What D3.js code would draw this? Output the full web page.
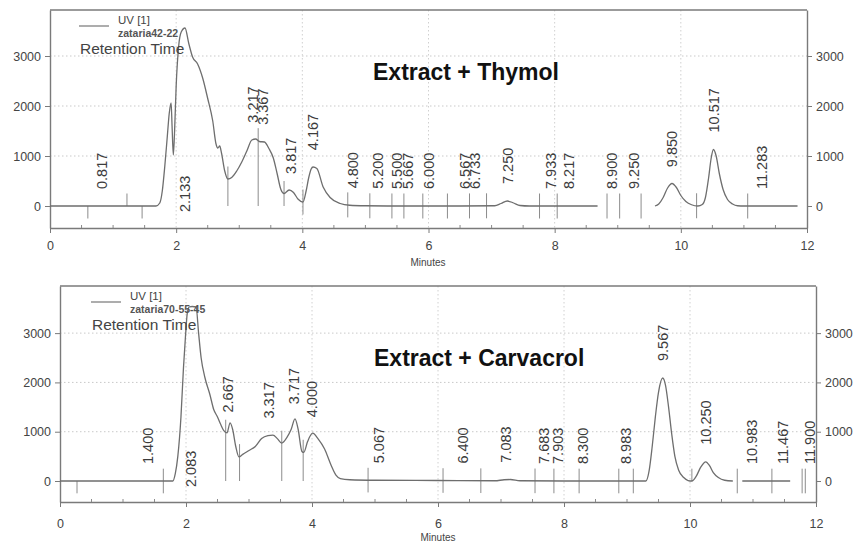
<!DOCTYPE html>
<html>
<head>
<meta charset="utf-8">
<script src="https://cdn.jsdelivr.net/npm/d3@7"></script>
<style>
  body { margin: 0; background: #fff; }
  svg { display: block; font-family: "Liberation Sans", Arial, sans-serif; }
</style>
</head>
<body>
<svg id="chart" width="859" height="549"></svg>
<script>
// ---- shared axis values ----
const timeTicks = [0, 2, 4, 6, 8, 10, 12];
const signalTicks = [0, 1000, 2000, 3000];

// ---- Extract + Thymol (zataria42-22) ----
// detector trace: [minutes, signal]; a null signal breaks the line
const thymolTrace = [
  [0, 0], [0.6, 0], [1.2, 0], [1.68, 0], [1.74, 60], [1.78, 300], [1.82, 800], [1.86, 1400],
  [1.89, 1850], [1.92, 2060], [1.935, 1600], [1.955, 1020], [1.975, 1500], [2.0, 2400],
  [2.04, 3200], [2.08, 3480], [2.14, 3560], [2.2, 3250], [2.26, 2980], [2.34, 2840],
  [2.42, 2560], [2.5, 2150], [2.58, 1700], [2.63, 1250], [2.66, 1160], [2.69, 1200],
  [2.72, 1050], [2.77, 700], [2.82, 540], [2.88, 570], [2.96, 700], [3.04, 880], [3.12, 1100],
  [3.2, 1320], [3.26, 1340], [3.32, 1290], [3.4, 1280], [3.47, 1150], [3.54, 960], [3.6, 650],
  [3.66, 330], [3.71, 250], [3.79, 320], [3.86, 270], [3.93, 140], [4.01, 80], [4.06, 300],
  [4.1, 560], [4.14, 740], [4.17, 780], [4.23, 750], [4.33, 380], [4.44, 170], [4.6, 50],
  [4.75, 15], [5.0, 5], [5.5, 0], [6.5, 0], [7.05, 5], [7.15, 50], [7.25, 100], [7.35, 60],
  [7.45, 10], [7.6, 0], [8.68, 0], [9.1, null], [9.59, 0], [9.65, 40], [9.72, 170], [9.79, 360],
  [9.86, 450], [9.93, 370], [10.0, 210], [10.08, 90], [10.17, 25], [10.27, 0], [10.34, 30],
  [10.39, 170], [10.44, 560], [10.48, 950], [10.517, 1130], [10.56, 1000], [10.61, 650],
  [10.67, 330], [10.74, 130], [10.82, 40], [10.9, 5], [11.0, 0], [11.85, 0]
];
const thymolPeaks = [0.817, 2.133, 3.217, 3.367, 3.817, 4.167, 4.800, 5.200, 5.500, 5.667,
  6.000, 6.567, 6.733, 7.250, 7.933, 8.217, 8.900, 9.250, 9.850, 10.517, 11.283];
const thymolDropLines = [2.82, 3.30, 3.71];
const thymolEventTicks = [4.01, 4.72, 5.07, 5.42, 5.61, 5.91, 6.30, 6.65, 6.92, 7.76, 8.04,
  8.83, 9.03, 9.37, 10.25, 11.06];
const thymolStartTicks = [1.22];
const thymolEndTicks = [0.60, 1.46];

// ---- Extract + Carvacrol (zataria70-55-45) ----
const carvacrolTrace = [
  [0, 0], [0.8, 0], [1.5, 0], [1.79, 0], [1.83, 150], [1.87, 500], [1.92, 1300], [1.96, 2300],
  [1.99, 2900], [2.02, 3400], [2.05, 3530], [2.1, 3540], [2.16, 3530], [2.2, 3000], [2.24, 2500],
  [2.3, 2100], [2.38, 1750], [2.44, 1450], [2.5, 1300], [2.55, 1150], [2.6, 1020], [2.65, 975],
  [2.7, 1180], [2.74, 1050], [2.79, 700], [2.84, 490], [2.9, 540], [3.0, 620], [3.1, 700],
  [3.2, 860], [3.3, 920], [3.38, 930], [3.45, 860], [3.52, 770], [3.6, 880], [3.67, 1050],
  [3.73, 1260], [3.78, 1050], [3.84, 600], [3.87, 580], [3.93, 800], [4.01, 970], [4.1, 850],
  [4.2, 650], [4.3, 330], [4.38, 120], [4.45, 50], [4.6, 25], [5.0, 15], [6.0, 10], [6.9, 5],
  [7.05, 25], [7.15, 30], [7.3, 5], [8.0, 0], [9.3, 0], [9.35, 200], [9.4, 700], [9.45, 1300],
  [9.5, 1800], [9.567, 2090], [9.61, 1950], [9.66, 1500], [9.71, 950], [9.76, 500], [9.82, 220],
  [9.9, 70], [9.97, 10], [10.03, 0], [10.1, 100], [10.17, 280], [10.25, 390], [10.31, 310],
  [10.37, 170], [10.45, 70], [10.55, 15], [10.68, 0], [10.75, null], [10.83, 0], [11.59, 0]
];
const carvacrolPeaks = [1.400, 2.083, 2.667, 3.317, 3.717, 4.000, 5.067, 6.400, 7.083, 7.683,
  7.903, 8.300, 8.983, 9.567, 10.250, 10.983, 11.467, 11.900];
const carvacrolDropLines = [2.63, 2.85, 3.52, 3.86];
const carvacrolEventTicks = [1.64, 4.89, 6.08, 6.68, 7.54, 7.84, 8.24, 8.87, 9.10, 10.75,
  11.30, 11.78, 11.83];
const carvacrolStartTicks = [10.03];
const carvacrolEndTicks = [0.27];

const svg = d3.select("#chart");
const fmtRT = d3.format(".3f");

// linear read-out of a trace at time t (used to seat the peak labels)
function valueAt(trace, t) {
  const pts = trace.filter(d => d[1] !== null);
  for (let i = 1; i < pts.length; i++) {
    if (pts[i][0] >= t) {
      const a = pts[i - 1], b = pts[i];
      const f = (t - a[0]) / (b[0] - a[0]);
      return a[1] + f * (b[1] - a[1]);
    }
  }
  return 0;
}

function drawPanel(cfg) {
  const x = d3.scaleLinear().domain([0, 12]).range([cfg.left, cfg.right]);
  const y = d3.scaleLinear().domain(cfg.yDomain).range([cfg.bottom, cfg.top]);
  const g = svg.append("g");

  // dotted grid
  g.append("g").selectAll("line").data(signalTicks.filter(v => v > 0)).join("line")
    .attr("x1", cfg.left).attr("x2", cfg.right)
    .attr("y1", d => y(d)).attr("y2", d => y(d))
    .attr("stroke", "#c9c9c9").attr("stroke-width", 1).attr("stroke-dasharray", "1.5,2.5");
  g.append("g").selectAll("line").data(timeTicks.filter(t => t > 0 && t < 12)).join("line")
    .attr("x1", d => x(d)).attr("x2", d => x(d))
    .attr("y1", cfg.top).attr("y2", cfg.bottom)
    .attr("stroke", "#d0d0d0").attr("stroke-width", 1).attr("stroke-dasharray", "1.5,2.5");

  // top edge of frame
  g.append("line")
    .attr("x1", cfg.left).attr("x2", cfg.right).attr("y1", cfg.top).attr("y2", cfg.top)
    .attr("stroke", "#7a7a7a").attr("stroke-width", 1.4);

  // axes
  const xAxis = g.append("g").attr("transform", `translate(0,${cfg.bottom})`)
    .call(d3.axisBottom(x).tickValues(timeTicks).tickSize(5).tickSizeOuter(0)
      .tickPadding(cfg.xPad).tickFormat(d3.format("d")));
  const yLeft = g.append("g").attr("transform", `translate(${cfg.left},0)`)
    .call(d3.axisLeft(y).tickValues(signalTicks).tickSize(5).tickSizeOuter(0)
      .tickPadding(4).tickFormat(d3.format("d")));
  const yRight = g.append("g").attr("transform", `translate(${cfg.right},0)`)
    .call(d3.axisRight(y).tickValues(signalTicks).tickSize(5).tickSizeOuter(0)
      .tickPadding(4).tickFormat(d3.format("d")));
  [xAxis, yLeft, yRight].forEach(a => {
    a.select(".domain").attr("stroke", "#7a7a7a").attr("stroke-width", 1.4);
    a.selectAll(".tick line").attr("stroke", "#7a7a7a");
    a.selectAll("text").attr("fill", "#444").attr("font-size", 12.5)
      .attr("font-family", "Liberation Sans, Arial, sans-serif");
  });

  // minor time ticks every half minute
  g.append("g").selectAll("line")
    .data(d3.range(0.5, 12, 0.5).filter(t => t % 2 !== 0)).join("line")
    .attr("x1", d => x(d)).attr("x2", d => x(d))
    .attr("y1", cfg.bottom).attr("y2", cfg.bottom - 3)
    .attr("stroke", "#8a8a8a");

  // "Minutes" caption
  g.append("text").attr("x", cfg.minutesX).attr("y", cfg.minutesY)
    .attr("text-anchor", "middle").attr("font-size", 10).attr("fill", "#444")
    .text("Minutes");

  // integration event marks
  const marks = g.append("g").attr("stroke", "#8c8c8c").attr("stroke-width", 1);
  marks.selectAll(".drop").data(cfg.dropLines).join("line")
    .attr("x1", d => x(d)).attr("x2", d => x(d))
    .attr("y1", y(0)).attr("y2", d => y(valueAt(cfg.trace, d) + 250));
  marks.selectAll(".both").data(cfg.eventTicks).join("line")
    .attr("x1", d => x(d)).attr("x2", d => x(d))
    .attr("y1", d => y(valueAt(cfg.trace, d) - 250)).attr("y2", d => y(valueAt(cfg.trace, d) + 250));
  marks.selectAll(".start").data(cfg.startTicks).join("line")
    .attr("x1", d => x(d)).attr("x2", d => x(d))
    .attr("y1", y(0)).attr("y2", y(250));
  marks.selectAll(".end").data(cfg.endTicks).join("line")
    .attr("x1", d => x(d)).attr("x2", d => x(d))
    .attr("y1", y(0)).attr("y2", y(-250));

  // detector trace
  const line = d3.line()
    .defined(d => d[1] !== null)
    .x(d => x(d[0])).y(d => y(d[1]))
    .curve(d3.curveMonotoneX);
  g.append("path").datum(cfg.trace)
    .attr("d", line).attr("fill", "none")
    .attr("stroke", "#6e6e6e").attr("stroke-width", 1.3).attr("stroke-linejoin", "round");

  // retention-time labels, read upward above each peak
  const labels = g.append("g");
  cfg.peaks.forEach(rt => {
    const t = labels.append("text")
      .attr("font-size", 14.5).attr("fill", "#3c3c3c")
      .attr("dy", "0.36em").text(fmtRT(rt));
    const len = t.node().getComputedTextLength();
    let yb = y(Math.max(valueAt(cfg.trace, rt), 0)) - 17;
    if (yb - len < cfg.top) yb = y(0) + 6;   // off-scale peak: label sits on the baseline
    t.attr("transform", `translate(${x(rt)},${yb}) rotate(-90)`);
  });

  // legend
  g.append("line")
    .attr("x1", cfg.legendX).attr("x2", cfg.legendX + 30)
    .attr("y1", cfg.legendY).attr("y2", cfg.legendY)
    .attr("stroke", "#777").attr("stroke-width", 1.2);
  g.append("text").attr("x", cfg.legendX + 39).attr("y", cfg.legendY - 2)
    .attr("font-size", 11.5).attr("fill", "#444").text("UV [1]");
  g.append("text").attr("x", cfg.legendX + 39).attr("y", cfg.legendY + 11)
    .attr("font-size", 10.5).attr("font-weight", "bold").attr("fill", "#555").text(cfg.sample);
  g.append("text").attr("x", cfg.legendX + 1).attr("y", cfg.legendY + 28)
    .attr("font-size", 15.5).attr("fill", "#444").text("Retention Time");

  // panel title
  g.append("text").attr("x", cfg.titleX).attr("y", cfg.titleY)
    .attr("font-size", 23).attr("font-weight", "bold").attr("fill", "#111")
    .text(cfg.title);
}

drawPanel({
  title: "Extract + Thymol", sample: "zataria42-22",
  trace: thymolTrace, peaks: thymolPeaks, dropLines: thymolDropLines,
  eventTicks: thymolEventTicks, startTicks: thymolStartTicks, endTicks: thymolEndTicks,
  left: 50, right: 807, top: 10, bottom: 228, yDomain: [-440, 3920], xPad: 8,
  minutesX: 428, minutesY: 266, legendX: 79, legendY: 26, titleX: 373, titleY: 80
});

drawPanel({
  title: "Extract + Carvacrol", sample: "zataria70-55-45",
  trace: carvacrolTrace, peaks: carvacrolPeaks, dropLines: carvacrolDropLines,
  eventTicks: carvacrolEventTicks, startTicks: carvacrolStartTicks, endTicks: carvacrolEndTicks,
  left: 60, right: 816, top: 286, bottom: 502, yDomain: [-426, 3956], xPad: 12,
  minutesX: 438, minutesY: 541, legendX: 91, legendY: 302, titleX: 374, titleY: 366
});
</script>
</body>
</html>
